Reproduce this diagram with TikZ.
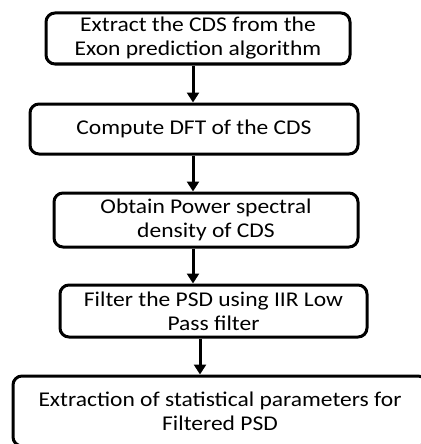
\documentclass[tikz,border=0pt]{standalone}
\usepackage{fontspec}
\setmainfont{Carlito}[FakeStretch=1.12]
\usetikzlibrary{arrows.meta}

\tikzset{
  stepbox/.style={draw, rectangle, rounded corners=9pt, line width=3pt,
    align=center, inner sep=0pt, font=\fontsize{21}{24}\selectfont},
  arr/.style={-{Triangle[length=10pt,width=12pt]}, line width=3pt}
}

\begin{document}
\begin{tikzpicture}[x=1pt,y=-1pt]
  \useasboundingbox (0,0) rectangle (420,444);

  \node[stepbox, minimum width=304pt, minimum height=51pt] (b1) at (198,38.5)
    {Extract the CDS from the\\Exon prediction algorithm};
  \node[stepbox, minimum width=328pt, minimum height=50pt] (b2) at (194,129)
    {Compute DFT of the CDS};
  \node[stepbox, minimum width=304pt, minimum height=54pt] (b3) at (206,220)
    {Obtain Power spectral\\density of CDS};
  \node[stepbox, minimum width=307pt, minimum height=52pt] (b4) at (213.5,311)
    {Filter the PSD using IIR Low\\Pass filter};
  \node[stepbox, minimum width=414pt, minimum height=70pt] (b5) at (220,411)
    {Extraction of statistical parameters for\\Filtered PSD};

  \draw[arr] ([xshift=-5pt]b1.south) -- ([xshift=-5pt]b1.south |- b2.north);
  \draw[arr] ([xshift=-1pt]b2.south) -- ([xshift=-1pt]b2.south |- b3.north);
  \draw[arr] ([xshift=-13pt]b3.south) -- ([xshift=-13pt]b3.south |- b4.north);
  \draw[arr] ([xshift=-13.5pt]b4.south) -- ([xshift=-13.5pt]b4.south |- b5.north);
\end{tikzpicture}
\end{document}
